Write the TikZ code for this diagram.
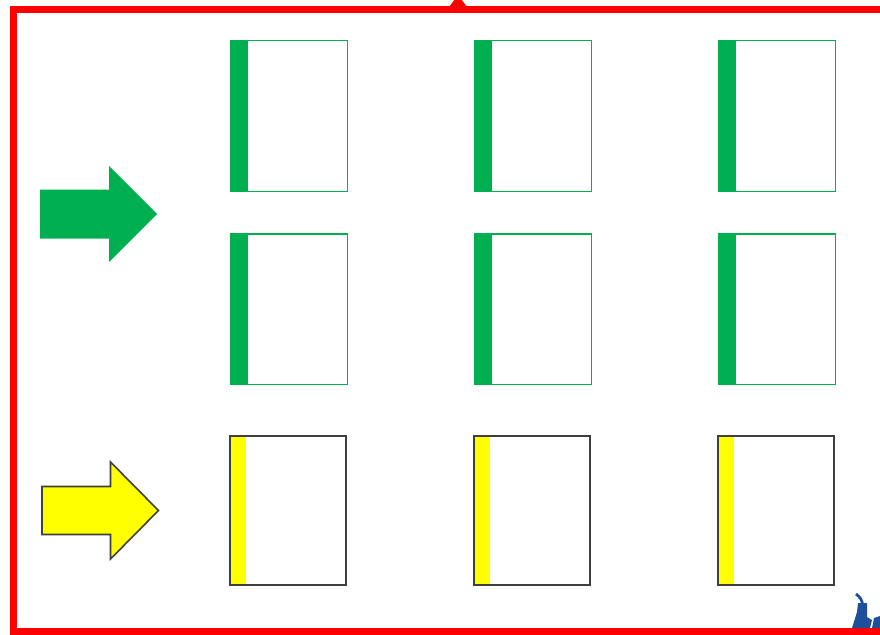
\documentclass[tikz,border=0pt]{standalone}
\definecolor{bgreen}{HTML}{00B050}
\definecolor{byellow}{HTML}{FFFF00}
\definecolor{bred}{HTML}{FF0000}
\definecolor{dgray}{HTML}{3F3F3F}
\definecolor{iblue}{HTML}{1F4E9A}
\tikzset{
  gbox/.style={draw=bgreen,line width=1.5pt,minimum width=116.5pt,minimum height=150.5pt,inner sep=0pt,anchor=north west,fill=white},
  ybox/.style={draw=dgray,line width=1.8pt,minimum width=116.2pt,minimum height=149.4pt,inner sep=0pt,anchor=north west,fill=white},
  garrow/.style={fill=bgreen,draw=none},
  yarrow/.style={fill=byellow,draw=dgray,line width=1.6pt,line join=miter},
}
\begin{document}
\begin{tikzpicture}[x=1pt,y=-1pt]
\useasboundingbox (0,0) rectangle (880,634);
\clip (0,0) rectangle (880,634);
\fill[white] (0,0) rectangle (880,634);
% red frame
\draw[bred,line width=7pt] (13.5,9.5) rectangle (900,631);
\fill[bred] (449,7) -- (467,7) -- (461,-1) -- (455,-1) -- cycle;
% green boxes
\foreach \c/\x in {1/230,2/474,3/718}{
  \node[gbox] (g1\c) at (\x,40) {};
  \fill[bgreen] (g1\c.north west) rectangle ([xshift=18pt]g1\c.south west);
  \node[gbox] (g2\c) at (\x,233) {};
  \fill[bgreen] (g2\c.north west) rectangle ([xshift=18pt]g2\c.south west);
}
% yellow boxes
\foreach \c/\x in {1/229,2/473,3/717}{
  \node[ybox] (y\c) at (\x,435) {};
  \fill[byellow] ([shift={(1.6pt,-1.6pt)}]y\c.north west) rectangle ([shift={(16.5pt,1.6pt)}]y\c.south west);
  \draw[dgray,line width=1.8pt] ([shift={(0.9pt,-0.9pt)}]y\c.north west) rectangle ([shift={(-0.9pt,0.9pt)}]y\c.south east);
}
% arrows
\fill[garrow] (40,189.5) -- (109,189.5) -- (109,166) -- (157,214) -- (109,262) -- (109,238.5) -- (40,238.5) -- cycle;
\draw[yarrow] (42,486.5) -- (110.5,486.5) -- (110.5,462) -- (158.5,510.5) -- (110.5,559) -- (110.5,534.5) -- (42,534.5) -- cycle;
% blue icon (partly visible)
\draw[iblue,line width=2.8pt] (856,594) .. controls (860,597) and (862,600) .. (862.5,604);
\fill[iblue] (858,603) -- (867,603) -- (867,617) -- (872,620) -- (870,628) -- (852,628) -- (857,612) -- cycle;
\fill[iblue] (874,618) -- (880,616) -- (880,628) -- (872,628) -- cycle;
\end{tikzpicture}
\end{document}
